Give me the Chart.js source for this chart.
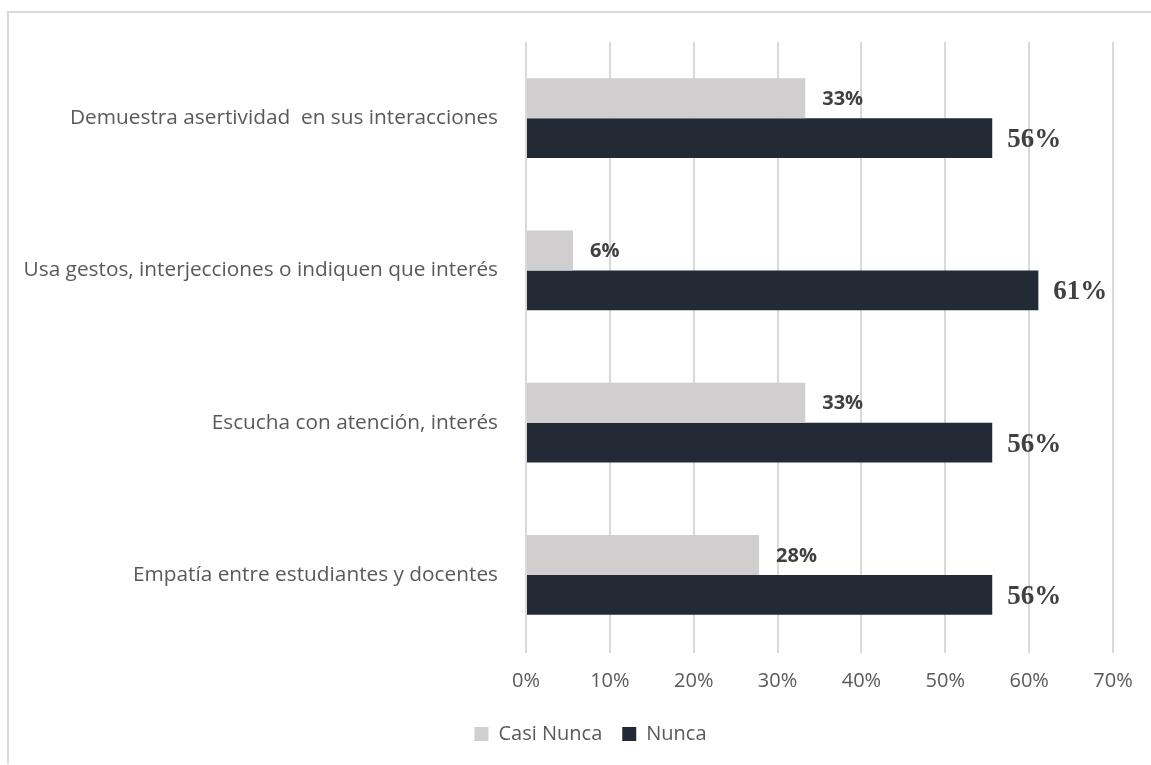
<!DOCTYPE html>
<html lang="es">
<head>
<meta charset="utf-8">
<title>Casi Nunca / Nunca</title>
<script src="https://cdn.jsdelivr.net/npm/chart.js@4.4.1/dist/chart.umd.min.js"></script>
<style>
  html, body { margin: 0; padding: 0; background: #fff; }
  body { width: 1151px; height: 765px; position: relative; overflow: hidden; }
  #frame {
    position: absolute; left: 7px; top: 11px; right: -10px; bottom: 1px;
    border-top: 2px solid #d9d9d9; border-left: 2px solid #d9d9d9;
  }
  #chart { position: absolute; left: 0; top: 0; }
</style>
</head>
<body>
<div id="frame"></div>
<canvas id="chart" width="1151" height="765"></canvas>
<script>
// categories, top to bottom
const categories = [
    'Demuestra asertividad  en sus interacciones',
    'Usa gestos, interjecciones o indiquen que interés',
    'Escucha con atención, interés',
    'Empatía entre estudiantes y docentes'
];
const casiNunca = [33.3, 5.6, 33.3, 27.8];
const nunca = [55.6, 61.1, 55.6, 55.6];
const xTicks = [0, 10, 20, 30, 40, 50, 60, 70];

const PLOT_LEFT = 526;
const X_AXIS_H = 53;
const LEGEND_SHIFT = 68;
const TEXT = '#595959';

// value labels at the end of each bar
const barLabels = {
    id: 'barLabels',
    afterDatasetsDraw(chart) {
        const ctx = chart.ctx;
        ctx.save();
        ctx.textBaseline = 'middle';
        ctx.textAlign = 'left';
        ctx.fillStyle = '#404040';
        chart.data.datasets.forEach((ds, i) => {
            const meta = chart.getDatasetMeta(i);
            meta.data.forEach((bar, j) => {
                const txt = Math.round(ds.data[j]) + '%';
                if (i === 0) {
                    ctx.font = 'bold 20px "Open Sans"';
                    ctx.fillText(txt, bar.x + 17, bar.y + 1);
                } else {
                    ctx.font = 'bold 27px "Liberation Serif", "Times New Roman", serif';
                    ctx.fillText(txt, bar.x + 15, bar.y + 2);
                }
            });
        });
        ctx.restore();
    }
};

// nudge the legend so it sits centred under the plot rather than the canvas
const legendNudge = {
    id: 'legendNudge',
    afterLayout(chart) {
        if (chart.legend) chart.legend.left += LEGEND_SHIFT;
    }
};

new Chart(document.getElementById('chart'), {
    type: 'bar',
    data: {
        labels: categories,
        datasets: [{
            label: 'Casi Nunca',
            data: casiNunca,
            backgroundColor: '#d0cece',
            categoryPercentage: 0.525,
            barPercentage: 1
        }, {
            label: 'Nunca',
            data: nunca,
            backgroundColor: '#222a35',
            categoryPercentage: 0.525,
            barPercentage: 1
        }]
    },
    options: {
        indexAxis: 'y',
        responsive: false,
        animation: false,
        devicePixelRatio: 1,
        layout: { padding: { left: 0, top: 42, right: 38, bottom: 11 } },
        plugins: {
            legend: {
                position: 'bottom',
                labels: {
                    color: TEXT,
                    font: { family: '"Open Sans"', size: 20 },
                    boxWidth: 14,
                    boxHeight: 14,
                    padding: 20
                }
            },
            tooltip: { enabled: false }
        },
        scales: {
            x: {
                min: 0,
                max: 70,
                afterBuildTicks: s => { s.ticks = xTicks.map(v => ({ value: v })); },
                afterFit: s => { s.height = X_AXIS_H; },
                ticks: {
                    color: TEXT,
                    font: { family: '"Open Sans"', size: 20 },
                    padding: 16,
                    callback: v => v + '%'
                },
                grid: { color: '#d9d9d9', lineWidth: 2, drawTicks: true, tickLength: 2 },
                border: { display: false }
            },
            y: {
                afterFit: s => { s.width = PLOT_LEFT; },
                ticks: {
                    color: TEXT,
                    font: { family: '"Open Sans"', size: 20.8 },
                    padding: 20
                },
                grid: { display: false },
                border: { display: false }
            }
        }
    },
    plugins: [barLabels, legendNudge]
});
</script>
</body>
</html>
